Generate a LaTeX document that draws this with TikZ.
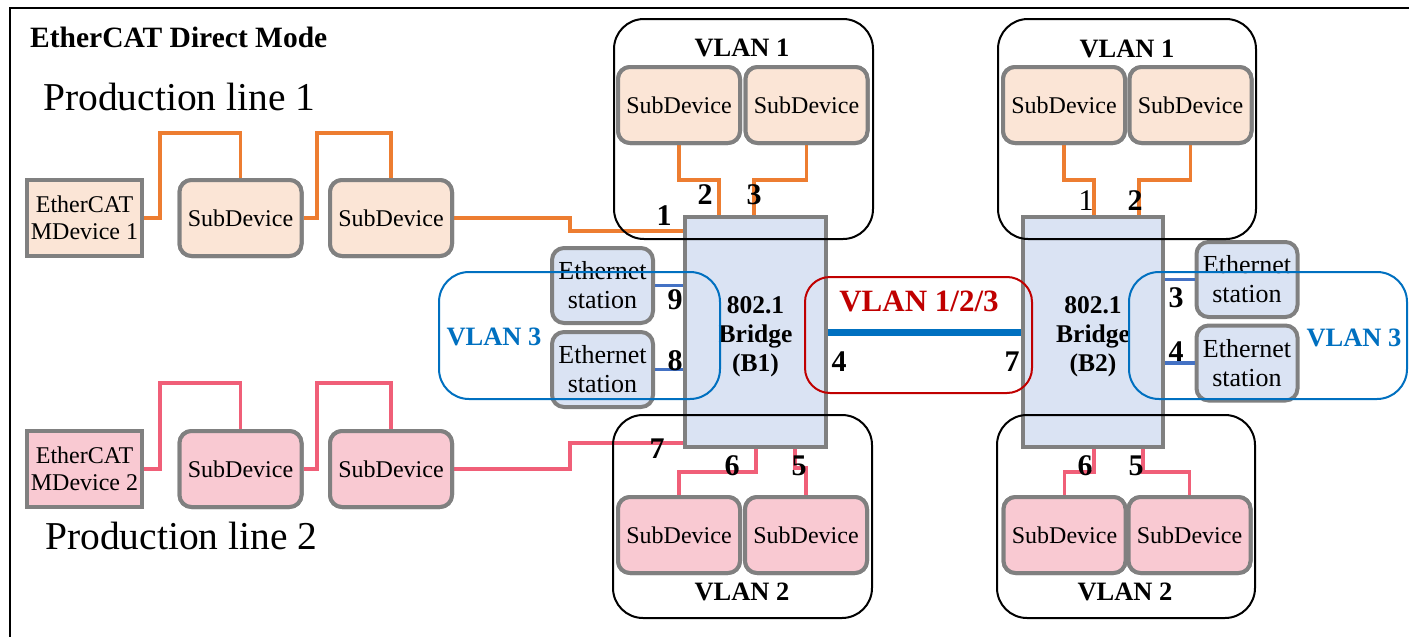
\documentclass[tikz,border=0pt]{standalone}
\usepackage{fontspec}
\setmainfont{Liberation Serif}
\definecolor{peach}{HTML}{FBE5D6}
\definecolor{pinkf}{HTML}{F9C9D2}
\definecolor{devgray}{HTML}{808080}
\definecolor{bridgef}{HTML}{DAE3F3}
\definecolor{orangel}{HTML}{ED7D31}
\definecolor{pinkl}{HTML}{F05F78}
\definecolor{vblue}{HTML}{0070C0}
\definecolor{sblue}{HTML}{4472C4}
\definecolor{vred}{HTML}{C00000}
\begin{document}
\begin{tikzpicture}[x=1pt,y=-1pt,
  dev/.style={draw=devgray, line width=4, minimum width=122, minimum height=76, rounded corners=12, inner sep=0, align=center, font=\fontsize{24}{27}\selectfont},
  subA/.style={dev, fill=peach},
  subB/.style={dev, fill=pinkf},
  mdevA/.style={dev, rounded corners=0, minimum width=115, fill=peach},
  mdevB/.style={dev, rounded corners=0, minimum width=115, fill=pinkf},
  bridgebox/.style={draw=devgray, line width=4, fill=bridgef, minimum width=141, minimum height=230, inner sep=0},
  bridgetext/.style={align=center, inner sep=0, font=\bfseries\fontsize{25.5}{29}\selectfont},
  eth/.style={dev, fill=bridgef, minimum width=101, minimum height=75, font=\fontsize{26}{29}\selectfont},
  vlanbox/.style={draw=black, line width=2, rounded corners=30, inner sep=0},
  vlanlabel/.style={inner sep=0, font=\bfseries\fontsize{26.5}{26}\selectfont},
  port/.style={inner sep=0, font=\bfseries\fontsize{30}{30}\selectfont},
  portreg/.style={inner sep=0, font=\fontsize{30}{30}\selectfont},
  oline/.style={draw=orangel, line width=3.5},
  pline/.style={draw=pinkl, line width=3.5},
  sline/.style={draw=sblue, line width=3.5}
]
\useasboundingbox (0,0) rectangle (1409,637);
\clip (0,0) rectangle (1409,637);
\fill[white] (0,0) rectangle (1409,637);
\draw[line width=2.5] (10,8) rectangle (1430,660);

% title and line names
\node[anchor=west, inner sep=0, font=\bfseries\fontsize{29.5}{29}\selectfont] (title) at (30,37) {EtherCAT Direct Mode};
\node[anchor=west, inner sep=0, font=\fontsize{39.5}{39}\selectfont] (pl1) at (43,97) {Production line 1};
\node[anchor=west, inner sep=0, font=\fontsize{39.5}{39}\selectfont] (pl2) at (45,536) {Production line 2};

% routing coordinates
\coordinate (c1) at (570,231);
\coordinate (c2) at (570,443);

% devices
\path
  node[mdevA] (md1) at (84.5,218) {EtherCAT\\MDevice 1}
  node[subA] (sd11) at (240.5,218) {SubDevice}
  node[subA] (sd12) at (391,218) {SubDevice}
  node[mdevB] (md2) at (84.5,469) {EtherCAT\\MDevice 2}
  node[subB] (sd21) at (240.5,469) {SubDevice}
  node[subB] (sd22) at (391,469) {SubDevice}
  node[subA] (sda) at (679,105) {SubDevice}
  node[subA] (sdb) at (806.5,105) {SubDevice}
  node[subA] (sdc) at (1064,105) {SubDevice}
  node[subA] (sdd) at (1190.5,105) {SubDevice}
  node[subB] (sde) at (679,535) {SubDevice}
  node[subB] (sdf) at (806,535) {SubDevice}
  node[subB] (sdg) at (1064.5,535) {SubDevice}
  node[subB] (sdh) at (1189.5,535) {SubDevice};

% orange connectors (production line 1 / VLAN 1)
\draw[oline] (md1.east) -| (160,133) -| (sd11.north);
\draw[oline] (sd11.east) -| (317,133) -| (sd12.north);
\draw[oline] (sd12.east) -| (c1) -- (685,231);
\draw[oline] (sda.south) |- (719,180) -- (719,217);
\draw[oline] (sdb.south) |- (754,180) -- (754,217);
\draw[oline] (sdc.south) |- (1094,180) -- (1094,217);
\draw[oline] (sdd.south) |- (1139,180) -- (1139,217);

% pink connectors (production line 2 / VLAN 2)
\draw[pline] (md2.east) -| (160,383) -| (sd21.north);
\draw[pline] (sd21.east) -| (317,383) -| (sd22.north);
\draw[pline] (sd22.east) -| (c2) -- (685,443);
\draw[pline] (sde.north) |- (756,472) -- (756,448);
\draw[pline] (sdf.north) |- (795,468) -- (795,448);
\draw[pline] (sdg.north) |- (1094,472) -- (1094,448);
\draw[pline] (sdh.north) |- (1143,472) -- (1143,448);

% bridges
\node[bridgebox] (b1) at (755.5,332) {};
\node[bridgebox, minimum width=140] (b2) at (1093,332) {};
\node[bridgetext] (b1t) at (755.5,337) {802.1\\Bridge\\(B1)};
\node[bridgetext] (b2t) at (1093,337) {802.1\\Bridge\\(B2)};

% ethernet stations
\node[eth] (e1) at (602.5,285.5) {Ethernet\\station};
\node[eth] (e2) at (602.5,369.5) {Ethernet\\station};
\node[eth] (e3) at (1247,279.5) {Ethernet\\station};
\node[eth] (e4) at (1247,363) {Ethernet\\station};
\draw[sline] (e1.east) -- (e1.east -| b1.west);
\draw[sline] (e2.east) -- (e2.east -| b1.west);
\draw[sline] (e3.west) -- (e3.west -| b2.east);
\draw[sline] (e4.west) -- (e4.west -| b2.east);

% trunk
\draw[draw=vblue, line width=7] (b1.east) -- (b2.west);

% devices again, on top of their connectors
\path
  node[mdevA] at (md1) {EtherCAT\\MDevice 1}
  node[subA] at (sd11) {SubDevice}
  node[subA] at (sd12) {SubDevice}
  node[mdevB] at (md2) {EtherCAT\\MDevice 2}
  node[subB] at (sd21) {SubDevice}
  node[subB] at (sd22) {SubDevice}
  node[subA] at (sda) {SubDevice}
  node[subA] at (sdb) {SubDevice}
  node[subA] at (sdc) {SubDevice}
  node[subA] at (sdd) {SubDevice}
  node[subB] at (sde) {SubDevice}
  node[subB] at (sdf) {SubDevice}
  node[subB] at (sdg) {SubDevice}
  node[subB] at (sdh) {SubDevice};

% VLAN outlines
\node[vlanbox, minimum width=259, minimum height=220] (v1a) at (743.5,129) {};
\node[vlanbox, minimum width=258, minimum height=220] (v1b) at (1127,129) {};
\node[vlanbox, minimum width=259, minimum height=203] (v2a) at (742.5,516.5) {};
\node[vlanbox, minimum width=258, minimum height=203] (v2b) at (1126,516.5) {};
\node[vlanbox, draw=vred, rounded corners=25, minimum width=227, minimum height=116] (v123) at (918.5,335) {};
\node[vlanbox, draw=vblue, minimum width=281, minimum height=127] (v3a) at (579.5,335.5) {};
\node[vlanbox, draw=vblue, minimum width=278, minimum height=127] (v3b) at (1268,335.5) {};

% VLAN labels
\node[vlanlabel] (lv1a) at (742,48) {VLAN 1};
\node[vlanlabel] (lv1b) at (1127,49) {VLAN 1};
\node[vlanlabel] (lv2a) at (742,592) {VLAN 2};
\node[vlanlabel] (lv2b) at (1125,592) {VLAN 2};
\node[vlanlabel, text=vblue] (lv3a) at (494,337) {VLAN 3};
\node[vlanlabel, text=vblue] (lv3b) at (1354,338) {VLAN 3};
\node[vlanlabel, text=vred, font=\bfseries\fontsize{31}{31}\selectfont] (lv123) at (919,301) {VLAN 1/2/3};

% port numbers
\node[port] (p1a) at (664,216) {1};
\node[port] (p2a) at (705,195) {2};
\node[port] (p3a) at (754,195) {3};
\node[port] (p9a) at (675,300) {9};
\node[port] (p8a) at (675,361) {8};
\node[port] (p4a) at (839,362) {4};
\node[port] (p7a) at (657,449) {7};
\node[port] (p6a) at (732,466) {6};
\node[port] (p5a) at (799,466) {5};
\node[portreg] (p1b) at (1086,201) {1};
\node[port] (p2b) at (1135,201) {2};
\node[port] (p7b) at (1012,362) {7};
\node[port] (p3b) at (1176,298) {3};
\node[port] (p4b) at (1176,352) {4};
\node[port] (p6b) at (1085,466) {6};
\node[port] (p5b) at (1136,466) {5};
\end{tikzpicture}
\end{document}
